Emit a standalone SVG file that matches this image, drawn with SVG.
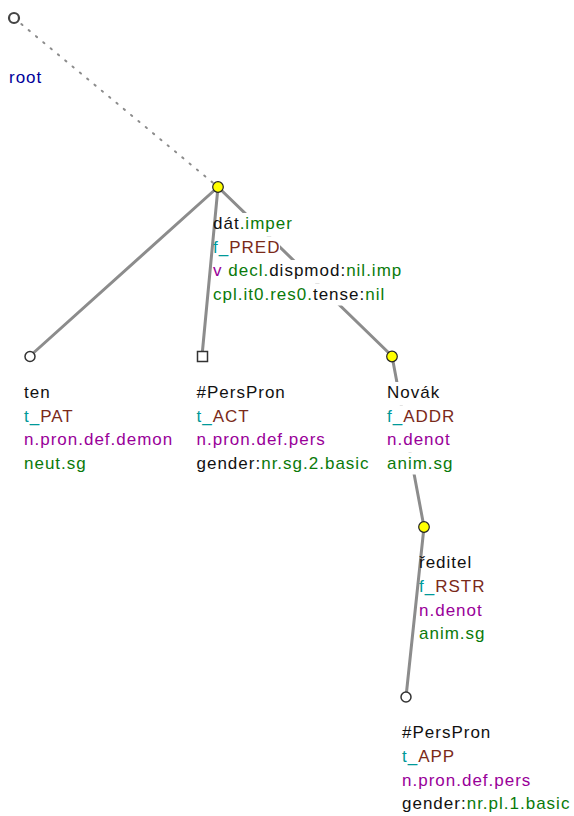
<svg xmlns="http://www.w3.org/2000/svg" width="574" height="816" viewBox="0 0 574 816">
<style>
text{font-family:"Liberation Sans",Arial,sans-serif;font-size:17px;letter-spacing:1px;fill:#111}
.g{fill:#0a7a0a}.p{fill:#990099}.t{fill:#009999}.b{fill:#7a2a1a}.r{fill:#00009a}
.e{stroke:#8c8c8c;stroke-width:3;fill:none;stroke-linecap:round}
.d{stroke:#8c8c8c;stroke-width:2;stroke-dasharray:1.5 8;fill:none;stroke-linecap:round}
.bg{fill:#fff}
.y{fill:#ffff00;stroke:#222;stroke-width:1.2}
.w{fill:#fff;stroke:#333;stroke-width:1.5}
</style>
<g id="connectors">
<line class="d" x1="14" y1="18" x2="218" y2="187"/>
<line class="e" x1="218" y1="187" x2="30" y2="356"/>
<line class="e" x1="218" y1="187" x2="202" y2="356"/>
<line class="e" x1="218" y1="187" x2="392" y2="356"/>
<line class="e" x1="392" y1="356" x2="424" y2="527"/>
<line class="e" x1="424" y1="527" x2="406" y2="697"/>
</g>
<g id="root">
<circle cx="14" cy="18" r="5" fill="#fff" stroke="#444" stroke-width="2.2"/>
<text x="9" y="83" class="r">root</text>
</g>
<g id="dat">
<circle class="y" cx="218" cy="187" r="5.3"/>
<rect class="bg" x="217" y="213" width="76" height="23.5"/>
<rect class="bg" x="217" y="236.5" width="63" height="23.5"/>
<rect class="bg" x="217" y="260" width="185" height="23.5"/>
<rect class="bg" x="217" y="283.5" width="168" height="22"/>
<text x="213" y="229">dát<tspan class="g">.imper</tspan></text>
<text x="213" y="252.5"><tspan class="t">f_</tspan><tspan class="b">PRED</tspan></text>
<text x="213" y="276"><tspan class="p">v</tspan> <tspan class="g">decl.</tspan>dispmod:<tspan class="g">nil.imp</tspan></text>
<text x="213" y="299.5"><tspan class="g">cpl.it0.res0.</tspan>tense:<tspan class="g">nil</tspan></text>
</g>
<g id="ten">
<circle class="w" cx="30" cy="356.5" r="5"/>
<text x="24" y="398">ten</text>
<text x="24" y="421.5"><tspan class="t">t_</tspan><tspan class="b">PAT</tspan></text>
<text x="24" y="445" class="p">n.pron.def.demon</text>
<text x="24" y="468.5" class="g">neut.sg</text>
</g>
<g id="perspron1">
<rect class="w" x="197.5" y="351.5" width="10" height="10"/>
<text x="196.5" y="398">#PersPron</text>
<text x="196.5" y="421.5"><tspan class="t">t_</tspan><tspan class="b">ACT</tspan></text>
<text x="196.5" y="445" class="p">n.pron.def.pers</text>
<text x="196.5" y="468.5">gender:<tspan class="g">nr.sg.2.basic</tspan></text>
</g>
<g id="novak">
<circle class="y" cx="392" cy="356.5" r="5.3"/>
<rect class="bg" x="388" y="382" width="53" height="23.5"/>
<rect class="bg" x="388" y="405.5" width="68" height="23.5"/>
<rect class="bg" x="388" y="429" width="63" height="23.5"/>
<rect class="bg" x="388" y="452.5" width="66" height="22"/>
<text x="387" y="398">Novák</text>
<text x="387" y="421.5"><tspan class="t">f_</tspan><tspan class="b">ADDR</tspan></text>
<text x="387" y="445" class="p">n.denot</text>
<text x="387" y="468.5" class="g">anim.sg</text>
</g>
<g id="reditel">
<circle class="y" cx="424" cy="527" r="5.3"/>
<text x="419" y="568.3">ředitel</text>
<text x="419" y="592"><tspan class="t">f_</tspan><tspan class="b">RSTR</tspan></text>
<text x="419" y="615.7" class="p">n.denot</text>
<text x="419" y="639.4" class="g">anim.sg</text>
</g>
<g id="perspron2">
<circle class="w" cx="406" cy="697" r="5"/>
<text x="402" y="738.3">#PersPron</text>
<text x="402" y="762"><tspan class="t">t_</tspan><tspan class="b">APP</tspan></text>
<text x="402" y="785.7" class="p">n.pron.def.pers</text>
<text x="402" y="809.4">gender:<tspan class="g">nr.pl.1.basic</tspan></text>
</g>
</svg>
